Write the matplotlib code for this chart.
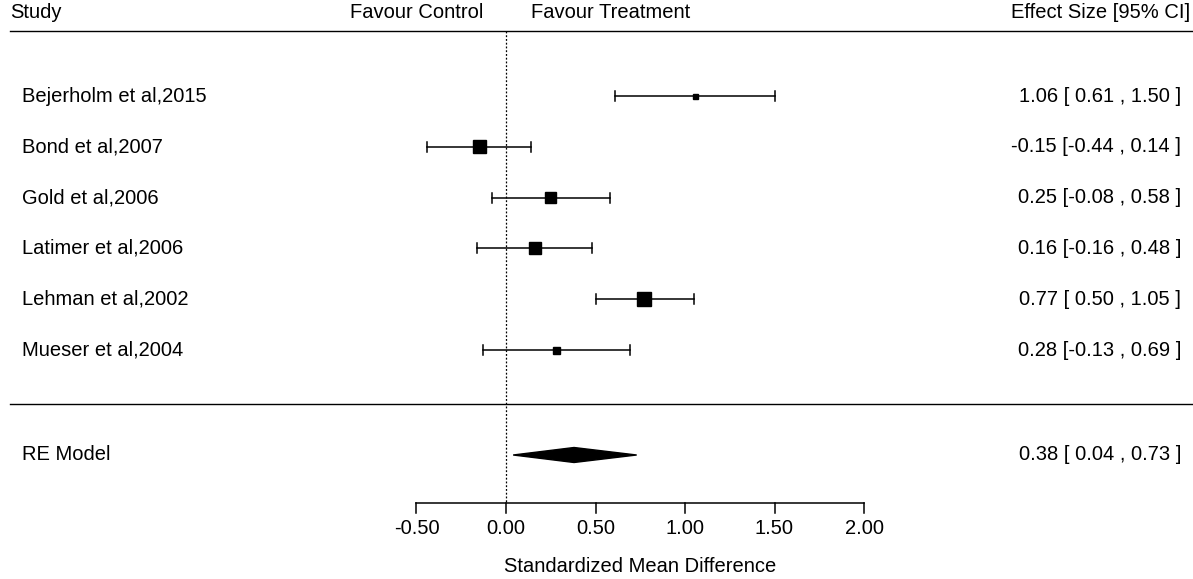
import matplotlib.pyplot as plt
from matplotlib.patches import Polygon
import numpy as np

plt.rcParams['font.family'] = ['Liberation Sans', 'DejaVu Sans']

studies = ["Bejerholm et al,2015", "Bond et al,2007", "Gold et al,2006",
           "Latimer et al,2006", "Lehman et al,2002", "Mueser et al,2004"]
effect = [1.06, -0.15, 0.25, 0.16, 0.77, 0.28]
lower = [0.61, -0.44, -0.08, -0.16, 0.50, -0.13]
upper = [1.50, 0.14, 0.58, 0.48, 1.05, 0.69]
box_size = [5, 13, 11, 12, 14, 7]  # pixel size of squares (weights)
re_est, re_lo, re_hi = 0.38, 0.04, 0.73
ticks = [-0.5, 0.0, 0.5, 1.0, 1.5, 2.0]

W, H = 1193, 579
x0_px, unit_px = 506, 179.0

fig = plt.figure(figsize=(W / 100, H / 100), dpi=100)
ax = fig.add_axes([0, 0, 1, 1])
ax.set_xlim(-x0_px / unit_px, (W - x0_px) / unit_px)
ax.set_ylim(H, 0)
ax.axis("off")

px = 1.0 / unit_px  # one pixel in data x units
fs = 14.5
row_y = 96 + 50.8 * np.arange(len(studies))

def xpix(p):
    return (p - x0_px) * px

# header
ax.text(xpix(10), 12, "Study", fontsize=fs, va="center", ha="left")
ax.text(xpix(483), 12, "Favour Control", fontsize=fs, va="center", ha="right")
ax.text(xpix(531), 12, "Favour Treatment", fontsize=fs, va="center", ha="left")
ax.text(xpix(1190), 12, "Effect Size [95% CI]", fontsize=fs, va="center", ha="right")
ax.plot([xpix(10), xpix(W)], [31, 31], color="black", lw=1)
ax.plot([xpix(10), xpix(W)], [404, 404], color="black", lw=1)

# reference line
ax.plot([0, 0], [31, 503], color="black", lw=0.9, ls=(0, (1.5, 1.5)))

for i, name in enumerate(studies):
    y = row_y[i]
    ax.plot([lower[i], upper[i]], [y, y], color="black", lw=1.1)
    for c in (lower[i], upper[i]):
        ax.plot([c, c], [y - 5, y + 5], color="black", lw=1.1)
    s = box_size[i]
    ax.add_patch(plt.Rectangle((effect[i] - s / 2 * px, y - s / 2), s * px, s,
                               color="black"))
    ax.text(xpix(22), y, name, fontsize=fs, va="center", ha="left")
    ax.text(xpix(1181), y, f"{effect[i]:.2f} [{lower[i]:5.2f} , {upper[i]:.2f} ]",
            fontsize=fs, va="center", ha="right")

# RE model diamond
ry = 455
ax.add_patch(Polygon([[re_lo, ry], [re_est, ry - 7.5], [re_hi, ry], [re_est, ry + 7.5]],
                     closed=True, color="black"))
ax.text(xpix(22), ry, "RE Model", fontsize=fs, va="center", ha="left")
ax.text(xpix(1181), ry, f"{re_est:.2f} [{re_lo:5.2f} , {re_hi:.2f} ]",
        fontsize=fs, va="center", ha="right")

# x axis
ax.plot([ticks[0], ticks[-1]], [503, 503], color="black", lw=1.1)
for t in ticks:
    ax.plot([t, t], [503, 513], color="black", lw=1.1)
    ax.text(t, 529, f"{t:.2f}", fontsize=fs, ha="center", va="center")
ax.text(0.75, 567, "Standardized Mean Difference", fontsize=fs, ha="center", va="center")

fig.savefig("out.png", dpi=100)
